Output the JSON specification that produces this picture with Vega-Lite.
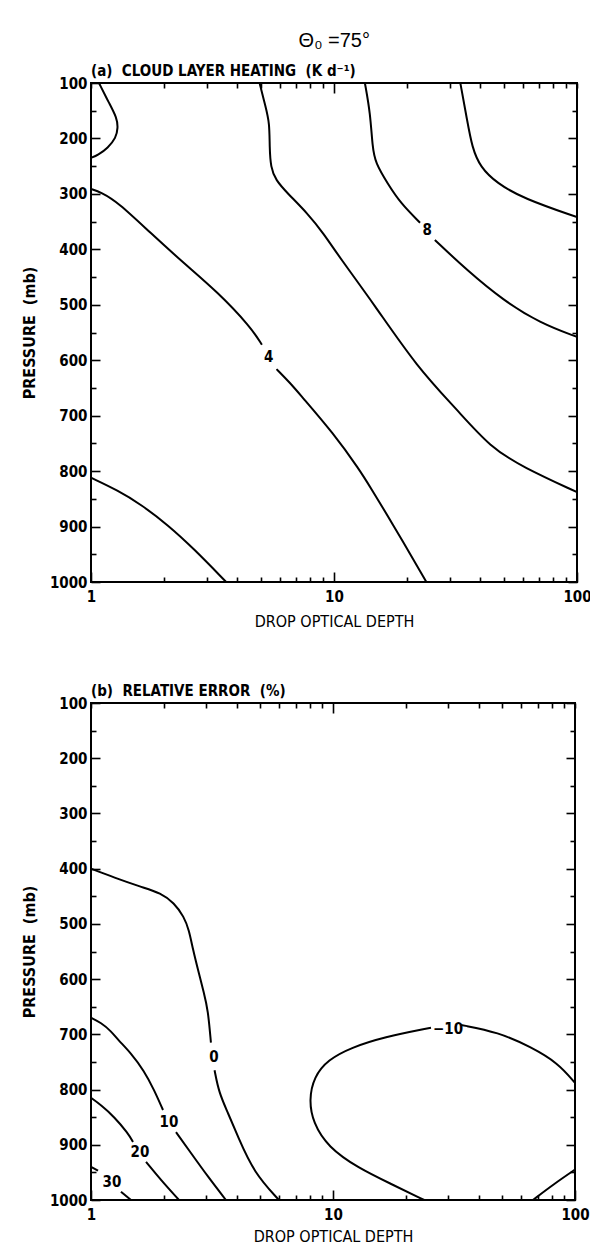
{
  "$schema": "https://vega.github.io/schema/vega-lite/v6.json",
  "background": "white",
  "padding": {"left": 20, "top": 31, "right": 0, "bottom": 0},
  "spacing": 53,
  "title": {"text": "Θ₀ =75°", "font": "Liberation Sans", "fontSize": 20, "fontWeight": "normal", "color": "black", "anchor": "middle", "offset": 12, "dx": 28},
  "config": {
    "view": {"stroke": "black", "strokeWidth": 2},
    "font": "DejaVu Sans Condensed, Liberation Sans, sans-serif",
    "axis": {"grid": false, "domain": false, "tickColor": "black", "tickWidth": 1.6, "labelColor": "black", "titleColor": "black", "labelFont": "DejaVu Sans Condensed, Liberation Sans, sans-serif", "titleFont": "DejaVu Sans Condensed, Liberation Sans, sans-serif", "labelFontSize": 15, "labelFontWeight": "bold", "titleFontSize": 16, "titleFontWeight": "bold", "labelOverlap": false, "labelFlush": false, "labelBound": false},
    "title": {"font": "DejaVu Sans Condensed, Liberation Sans, sans-serif", "fontSize": 15, "fontWeight": "bold", "color": "black"}
  },
  "datasets": {
    "a_lines": [
      {"seg": "a1", "ord": 1, "tau": 1.079, "p": 100}, {"seg": "a1", "ord": 2, "tau": 1.186, "p": 136}, {"seg": "a1", "ord": 3, "tau": 1.279, "p": 163}, {"seg": "a1", "ord": 4, "tau": 1.291, "p": 181}, {"seg": "a1", "ord": 5, "tau": 1.267, "p": 199}, {"seg": "a1", "ord": 6, "tau": 1.174, "p": 217}, {"seg": "a1", "ord": 7, "tau": 1.068, "p": 230}, {"seg": "a1", "ord": 8, "tau": 1.0, "p": 235},
      {"seg": "a2", "ord": 1, "tau": 1.0, "p": 291}, {"seg": "a2", "ord": 2, "tau": 1.099, "p": 297}, {"seg": "a2", "ord": 3, "tau": 1.291, "p": 315}, {"seg": "a2", "ord": 4, "tau": 1.763, "p": 371}, {"seg": "a2", "ord": 5, "tau": 2.41, "p": 425}, {"seg": "a2", "ord": 6, "tau": 3.32, "p": 477}, {"seg": "a2", "ord": 7, "tau": 4.54, "p": 540}, {"seg": "a2", "ord": 8, "tau": 5.05, "p": 572},
      {"seg": "a3", "ord": 1, "tau": 5.8, "p": 616}, {"seg": "a3", "ord": 2, "tau": 6.63, "p": 642}, {"seg": "a3", "ord": 3, "tau": 7.28, "p": 663}, {"seg": "a3", "ord": 4, "tau": 9.95, "p": 732}, {"seg": "a3", "ord": 5, "tau": 12.8, "p": 799}, {"seg": "a3", "ord": 6, "tau": 14.1, "p": 829}, {"seg": "a3", "ord": 7, "tau": 17.1, "p": 889}, {"seg": "a3", "ord": 8, "tau": 24.0, "p": 1000},
      {"seg": "a4", "ord": 1, "tau": 4.94, "p": 100}, {"seg": "a4", "ord": 2, "tau": 5.23, "p": 143}, {"seg": "a4", "ord": 3, "tau": 5.43, "p": 172}, {"seg": "a4", "ord": 4, "tau": 5.43, "p": 216}, {"seg": "a4", "ord": 5, "tau": 5.49, "p": 252}, {"seg": "a4", "ord": 6, "tau": 5.75, "p": 275}, {"seg": "a4", "ord": 7, "tau": 6.44, "p": 299}, {"seg": "a4", "ord": 8, "tau": 7.78, "p": 335}, {"seg": "a4", "ord": 9, "tau": 9.05, "p": 371}, {"seg": "a4", "ord": 10, "tau": 10.6, "p": 416}, {"seg": "a4", "ord": 11, "tau": 14.5, "p": 497}, {"seg": "a4", "ord": 12, "tau": 22.0, "p": 613}, {"seg": "a4", "ord": 13, "tau": 32.2, "p": 690}, {"seg": "a4", "ord": 14, "tau": 44.0, "p": 757}, {"seg": "a4", "ord": 15, "tau": 60.0, "p": 793}, {"seg": "a4", "ord": 16, "tau": 100, "p": 838},
      {"seg": "a5", "ord": 1, "tau": 13.4, "p": 100}, {"seg": "a5", "ord": 2, "tau": 14.1, "p": 154}, {"seg": "a5", "ord": 3, "tau": 14.4, "p": 216}, {"seg": "a5", "ord": 4, "tau": 14.8, "p": 244}, {"seg": "a5", "ord": 5, "tau": 16.6, "p": 281}, {"seg": "a5", "ord": 6, "tau": 18.8, "p": 317}, {"seg": "a5", "ord": 7, "tau": 22.6, "p": 352},
      {"seg": "a6", "ord": 1, "tau": 26.0, "p": 383}, {"seg": "a6", "ord": 2, "tau": 35.3, "p": 438}, {"seg": "a6", "ord": 3, "tau": 49.7, "p": 492}, {"seg": "a6", "ord": 4, "tau": 70.5, "p": 533}, {"seg": "a6", "ord": 5, "tau": 100, "p": 558},
      {"seg": "a7", "ord": 1, "tau": 33.1, "p": 100}, {"seg": "a7", "ord": 2, "tau": 35.3, "p": 167}, {"seg": "a7", "ord": 3, "tau": 37.0, "p": 216}, {"seg": "a7", "ord": 4, "tau": 40.0, "p": 252}, {"seg": "a7", "ord": 5, "tau": 46.9, "p": 281}, {"seg": "a7", "ord": 6, "tau": 60.0, "p": 308}, {"seg": "a7", "ord": 7, "tau": 100, "p": 342},
      {"seg": "a8", "ord": 1, "tau": 1.0, "p": 812}, {"seg": "a8", "ord": 2, "tau": 1.291, "p": 835}, {"seg": "a8", "ord": 3, "tau": 1.604, "p": 860}, {"seg": "a8", "ord": 4, "tau": 2.07, "p": 897}, {"seg": "a8", "ord": 5, "tau": 2.65, "p": 940}, {"seg": "a8", "ord": 6, "tau": 3.6, "p": 1000}
    ],
    "a_labels": [
      {"tau": 5.38, "p": 595, "label": "4"},
      {"tau": 24.2, "p": 366, "label": "8"}
    ],
    "b_lines": [
      {"seg": "b1", "ord": 1, "tau": 1.0, "p": 400}, {"seg": "b1", "ord": 2, "tau": 1.245, "p": 416}, {"seg": "b1", "ord": 3, "tau": 1.609, "p": 433}, {"seg": "b1", "ord": 4, "tau": 1.946, "p": 444}, {"seg": "b1", "ord": 5, "tau": 2.203, "p": 462}, {"seg": "b1", "ord": 6, "tau": 2.423, "p": 487}, {"seg": "b1", "ord": 7, "tau": 2.54, "p": 511}, {"seg": "b1", "ord": 8, "tau": 2.64, "p": 547}, {"seg": "b1", "ord": 9, "tau": 2.767, "p": 583}, {"seg": "b1", "ord": 10, "tau": 2.93, "p": 625}, {"seg": "b1", "ord": 11, "tau": 3.044, "p": 656}, {"seg": "b1", "ord": 12, "tau": 3.13, "p": 715},
      {"seg": "b2", "ord": 1, "tau": 3.24, "p": 765}, {"seg": "b2", "ord": 2, "tau": 3.38, "p": 806}, {"seg": "b2", "ord": 3, "tau": 3.68, "p": 842}, {"seg": "b2", "ord": 4, "tau": 4.05, "p": 886}, {"seg": "b2", "ord": 5, "tau": 4.72, "p": 951}, {"seg": "b2", "ord": 6, "tau": 5.98, "p": 1000},
      {"seg": "b3", "ord": 1, "tau": 1.0, "p": 670}, {"seg": "b3", "ord": 2, "tau": 1.1, "p": 679}, {"seg": "b3", "ord": 3, "tau": 1.209, "p": 694}, {"seg": "b3", "ord": 4, "tau": 1.293, "p": 710}, {"seg": "b3", "ord": 5, "tau": 1.463, "p": 734}, {"seg": "b3", "ord": 6, "tau": 1.656, "p": 766}, {"seg": "b3", "ord": 7, "tau": 1.821, "p": 800}, {"seg": "b3", "ord": 8, "tau": 1.984, "p": 837},
      {"seg": "b4", "ord": 1, "tau": 2.245, "p": 877}, {"seg": "b4", "ord": 2, "tau": 2.589, "p": 915}, {"seg": "b4", "ord": 3, "tau": 3.044, "p": 958}, {"seg": "b4", "ord": 4, "tau": 3.61, "p": 1000},
      {"seg": "b5", "ord": 1, "tau": 1.0, "p": 815}, {"seg": "b5", "ord": 2, "tau": 1.1, "p": 828}, {"seg": "b5", "ord": 3, "tau": 1.245, "p": 849}, {"seg": "b5", "ord": 4, "tau": 1.422, "p": 879}, {"seg": "b5", "ord": 5, "tau": 1.491, "p": 895},
      {"seg": "b6", "ord": 1, "tau": 1.688, "p": 931}, {"seg": "b6", "ord": 2, "tau": 1.946, "p": 964}, {"seg": "b6", "ord": 3, "tau": 2.31, "p": 1000},
      {"seg": "b7", "ord": 1, "tau": 1.0, "p": 940}, {"seg": "b7", "ord": 2, "tau": 1.069, "p": 947},
      {"seg": "b8", "ord": 1, "tau": 1.33, "p": 985}, {"seg": "b8", "ord": 2, "tau": 1.463, "p": 1000},
      {"seg": "b9", "ord": 1, "tau": 25.4, "p": 688}, {"seg": "b9", "ord": 2, "tau": 16.2, "p": 705}, {"seg": "b9", "ord": 3, "tau": 11.9, "p": 724}, {"seg": "b9", "ord": 4, "tau": 9.53, "p": 746}, {"seg": "b9", "ord": 5, "tau": 8.34, "p": 777}, {"seg": "b9", "ord": 6, "tau": 7.96, "p": 819}, {"seg": "b9", "ord": 7, "tau": 8.27, "p": 860}, {"seg": "b9", "ord": 8, "tau": 9.53, "p": 904}, {"seg": "b9", "ord": 9, "tau": 12.7, "p": 942}, {"seg": "b9", "ord": 10, "tau": 17.4, "p": 971}, {"seg": "b9", "ord": 11, "tau": 23.8, "p": 1000},
      {"seg": "b10", "ord": 1, "tau": 33.8, "p": 683}, {"seg": "b10", "ord": 2, "tau": 48.1, "p": 696}, {"seg": "b10", "ord": 3, "tau": 65.8, "p": 723}, {"seg": "b10", "ord": 4, "tau": 85.1, "p": 752}, {"seg": "b10", "ord": 5, "tau": 100, "p": 788},
      {"seg": "b11", "ord": 1, "tau": 67.0, "p": 1000}, {"seg": "b11", "ord": 2, "tau": 81.9, "p": 971}, {"seg": "b11", "ord": 3, "tau": 100, "p": 945}
    ],
    "b_labels": [
      {"tau": 3.223, "p": 741, "label": "0"},
      {"tau": 2.1, "p": 858, "label": "10"},
      {"tau": 1.594, "p": 913, "label": "20"},
      {"tau": 1.221, "p": 967, "label": "30"},
      {"tau": 29.9, "p": 690, "label": "−10"}
    ]
  },
  "vconcat": [
    {
      "width": 486,
      "height": 499,
      "title": {"text": "(a)\u00a0 CLOUD LAYER HEATING\u00a0 (K d⁻¹)", "anchor": "start", "frame": "group", "offset": -3},
      "resolve": {"axis": {"x": "independent", "y": "independent"}},
      "layer": [
        {
          "data": {"name": "a_lines"},
          "mark": {"type": "line", "color": "black", "strokeWidth": 2, "interpolate": "basis", "clip": true},
          "encoding": {
            "x": {"field": "tau", "type": "quantitative", "scale": {"type": "log", "domain": [1, 100], "nice": false},
              "axis": {"orient": "bottom", "title": "DROP OPTICAL DEPTH", "titleFontWeight": "normal", "values": [1,2,3,4,5,6,7,8,9,10,20,30,40,50,60,70,80,90,100], "format": "d", "labelExpr": "(datum.value == 1 || datum.value == 10 || datum.value == 100) ? datum.label : ''", "tickSize": {"condition": {"test": "datum.value == 1 || datum.value == 10 || datum.value == 100", "value": -10}, "value": -5}, "labelPadding": 17, "titlePadding": 4}},
            "y": {"field": "p", "type": "quantitative", "scale": {"domain": [100, 1000], "reverse": true, "nice": false, "zero": false},
              "axis": {"orient": "left", "title": "PRESSURE\u00a0 (mb)", "values": [100,150,200,250,300,350,400,450,500,550,600,650,700,750,800,850,900,950,1000], "format": "d", "labelExpr": "datum.value % 100 == 0 ? datum.label : ''", "tickSize": {"condition": {"test": "datum.value % 100 == 0", "value": -9}, "value": -5}, "labelPadding": 13, "titlePadding": 12}},
            "detail": {"field": "seg", "type": "nominal"},
            "order": {"field": "ord", "type": "quantitative"}
          }
        },
        {
          "data": {"name": "a_labels"},
          "mark": {"type": "text", "color": "black", "font": "DejaVu Sans Condensed, Liberation Sans, sans-serif", "fontSize": 15, "fontWeight": "bold", "align": "center", "baseline": "middle"},
          "encoding": {
            "x": {"field": "tau", "type": "quantitative", "scale": {"type": "log", "domain": [1, 100], "nice": false},
              "axis": {"orient": "top", "title": null, "labels": false, "values": [1,2,3,4,5,6,7,8,9,10,20,30,40,50,60,70,80,90,100], "tickSize": {"condition": {"test": "datum.value == 10", "value": -10}, "value": -5}}},
            "y": {"field": "p", "type": "quantitative", "scale": {"domain": [100, 1000], "reverse": true, "nice": false, "zero": false},
              "axis": {"orient": "right", "title": null, "labels": false, "values": [100,150,200,250,300,350,400,450,500,550,600,650,700,750,800,850,900,950,1000], "tickSize": {"condition": {"test": "datum.value % 100 == 0", "value": -9}, "value": -5}}},
            "text": {"field": "label", "type": "nominal"}
          }
        }
      ]
    },
    {
      "width": 484,
      "height": 497,
      "title": {"text": "(b)\u00a0 RELATIVE ERROR\u00a0 (%)", "anchor": "start", "frame": "group", "offset": -3},
      "resolve": {"axis": {"x": "independent", "y": "independent"}},
      "layer": [
        {
          "data": {"name": "b_lines"},
          "mark": {"type": "line", "color": "black", "strokeWidth": 2, "interpolate": "basis", "clip": true},
          "encoding": {
            "x": {"field": "tau", "type": "quantitative", "scale": {"type": "log", "domain": [1, 100], "nice": false},
              "axis": {"orient": "bottom", "title": "DROP OPTICAL DEPTH", "titleFontWeight": "normal", "values": [1,2,3,4,5,6,7,8,9,10,20,30,40,50,60,70,80,90,100], "format": "d", "labelExpr": "(datum.value == 1 || datum.value == 10 || datum.value == 100) ? datum.label : ''", "tickSize": {"condition": {"test": "datum.value == 1 || datum.value == 10 || datum.value == 100", "value": -10}, "value": -5}, "labelPadding": 17, "titlePadding": 1}},
            "y": {"field": "p", "type": "quantitative", "scale": {"domain": [100, 1000], "reverse": true, "nice": false, "zero": false},
              "axis": {"orient": "left", "title": "PRESSURE\u00a0 (mb)", "values": [100,150,200,250,300,350,400,450,500,550,600,650,700,750,800,850,900,950,1000], "format": "d", "labelExpr": "datum.value % 100 == 0 ? datum.label : ''", "tickSize": {"condition": {"test": "datum.value % 100 == 0", "value": -9}, "value": -5}, "labelPadding": 13, "titlePadding": 12}},
            "detail": {"field": "seg", "type": "nominal"},
            "order": {"field": "ord", "type": "quantitative"}
          }
        },
        {
          "data": {"name": "b_labels"},
          "mark": {"type": "text", "color": "black", "font": "DejaVu Sans Condensed, Liberation Sans, sans-serif", "fontSize": 15, "fontWeight": "bold", "align": "center", "baseline": "middle"},
          "encoding": {
            "x": {"field": "tau", "type": "quantitative", "scale": {"type": "log", "domain": [1, 100], "nice": false},
              "axis": {"orient": "top", "title": null, "labels": false, "values": [1,2,3,4,5,6,7,8,9,10,20,30,40,50,60,70,80,90,100], "tickSize": {"condition": {"test": "datum.value == 10", "value": -10}, "value": -5}}},
            "y": {"field": "p", "type": "quantitative", "scale": {"domain": [100, 1000], "reverse": true, "nice": false, "zero": false},
              "axis": {"orient": "right", "title": null, "labels": false, "values": [100,150,200,250,300,350,400,450,500,550,600,650,700,750,800,850,900,950,1000], "tickSize": {"condition": {"test": "datum.value % 100 == 0", "value": -9}, "value": -5}}},
            "text": {"field": "label", "type": "nominal"}
          }
        }
      ]
    }
  ]
}
